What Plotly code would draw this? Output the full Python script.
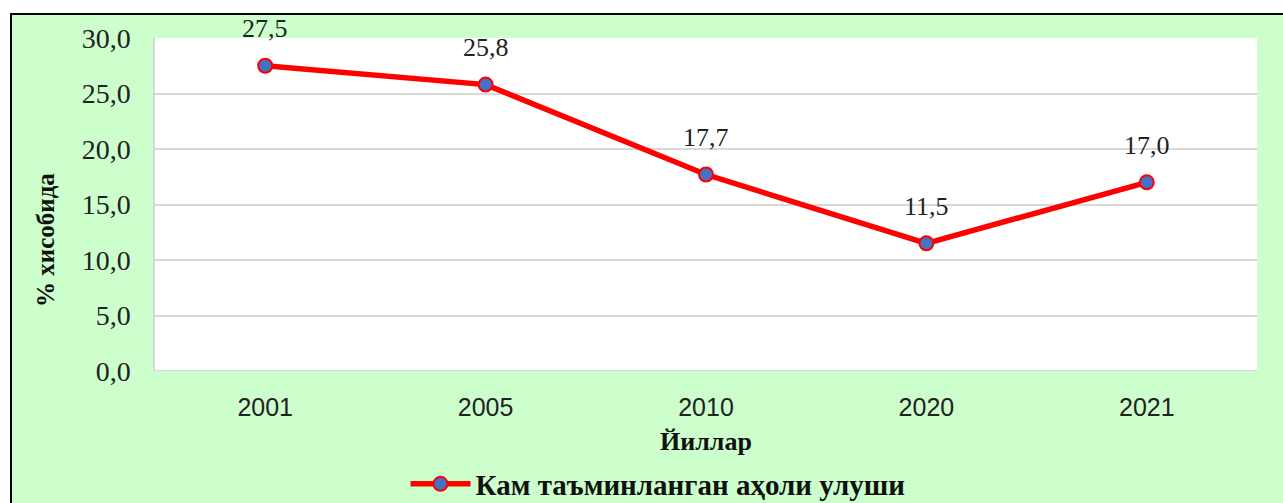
import plotly.graph_objects as go

years = ["2001", "2005", "2010", "2020", "2021"]
values = [27.5, 25.8, 17.7, 11.5, 17.0]
series_name = "Кам таъминланган аҳоли улуши"
x_title = "Йиллар"
y_title = "% хисобида"
y_ticks = [0, 5, 10, 15, 20, 25, 30]

W, H = 1283, 503
L, R, T, B = 155, 26, 38, 132
pw, ph = W - L - R, H - T - B

def px_x(p):
    return (p - L) / pw

def px_y(p):
    return (H - B - p) / ph

GREEN = "#CCFFCC"
SERIF = "Liberation Serif, Times New Roman, serif"

xpos = list(range(len(years)))

fig = go.Figure()
fig.add_trace(go.Scatter(
    x=xpos, y=values, mode="lines+markers", name=series_name,
    line=dict(color="#FF0000", width=5.5),
    marker=dict(size=14, color="#4472C4", line=dict(color="#FF0000", width=2)),
))

for xv, yv in zip(xpos, values):
    fig.add_annotation(x=xv, y=yv, text=f"{yv:.1f}".replace(".", ","),
                       showarrow=False, yshift=37,
                       font=dict(family=SERIF, size=26, color="#222222"))

fig.add_annotation(xref="paper", yref="paper", x=px_x(706), y=px_y(441),
                   xanchor="center", yanchor="middle",
                   text=f"<b>{x_title}</b>", showarrow=False,
                   font=dict(family=SERIF, size=26, color="#111111"))
fig.add_annotation(xref="paper", yref="paper", x=px_x(45), y=px_y(240),
                   xanchor="center", yanchor="middle",
                   text=f"<b>{y_title}</b>", showarrow=False, textangle=-90,
                   font=dict(family=SERIF, size=25, color="#111111"))

# outer white strips and black frame
fig.add_shape(type="rect", xref="paper", yref="paper", x0=px_x(-5), x1=px_x(10),
              y0=px_y(H + 5), y1=px_y(-5), fillcolor="white", line_width=0, layer="below")
fig.add_shape(type="rect", xref="paper", yref="paper", x0=px_x(-5), x1=px_x(W + 5),
              y0=px_y(13), y1=px_y(-5), fillcolor="white", line_width=0, layer="below")
fig.add_shape(type="line", xref="paper", yref="paper", x0=px_x(11), x1=px_x(11),
              y0=px_y(13), y1=px_y(H + 5), line=dict(color="black", width=2))
fig.add_shape(type="line", xref="paper", yref="paper", x0=px_x(10), x1=px_x(W + 5),
              y0=px_y(14), y1=px_y(14), line=dict(color="black", width=2))

fig.update_layout(
    width=W, height=H,
    margin=dict(l=L, r=R, t=T, b=B, autoexpand=False),
    paper_bgcolor=GREEN, plot_bgcolor="white",
    separators=", ",
    showlegend=True,
    legend=dict(orientation="h", x=px_x(658), y=px_y(484), xanchor="center", yanchor="middle",
                font=dict(family=SERIF, size=29, color="#111111", weight="bold"),
                itemwidth=60, bgcolor="rgba(0,0,0,0)"),
    xaxis=dict(range=[-0.5, len(years) - 0.5], tickvals=xpos, ticktext=years,
               showgrid=False, zeroline=False, showline=False,
               ticks="", ticklabelstandoff=19,
               tickfont=dict(family="Liberation Sans, Arial, sans-serif", size=25, color="#222222")),
    yaxis=dict(range=[0, 30], tickvals=y_ticks, tickformat=".1f",
               showgrid=True, gridcolor="#D9D9D9", gridwidth=1.5,
               zeroline=False, showline=True, linecolor="#D9D9D9", linewidth=1.5,
               ticks="", ticklabelstandoff=17,
               tickfont=dict(family=SERIF, size=28, color="#222222")),
)
fig.add_shape(type="line", xref="paper", yref="y", x0=0, x1=1, y0=0, y1=0,
              line=dict(color="#D9D9D9", width=2))

fig.write_html("out.html", config={"displayModeBar": False})
with open("out.html", encoding="utf-8") as f:
    html = f.read()
html = html.replace("<head>", "<head><style>html,body{margin:0;padding:0;overflow:hidden;}</style>", 1)
with open("out.html", "w", encoding="utf-8") as f:
    f.write(html)
